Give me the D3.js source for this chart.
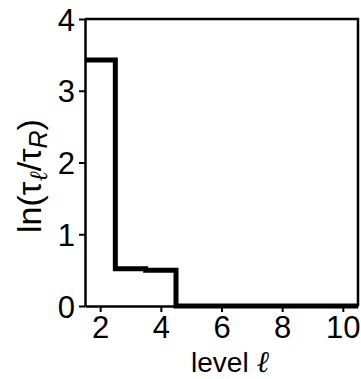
<!DOCTYPE html>
<html>
<head>
<meta charset="utf-8">
<script src="https://cdn.jsdelivr.net/npm/d3@7"></script>
<style>
  body { margin: 0; background: #fff; }
  svg { display: block; font-family: "Liberation Sans", Arial, sans-serif; }
</style>
</head>
<body>
<div class="chart"></div>
<script>
// data
var levels = [2, 3, 4, 5, 6, 7, 8, 9, 10]
var lnRatio = [3.43, 0.52, 0.50, 0, 0, 0, 0, 0, 0]
var xTicks = [2, 4, 6, 8, 10]
var yTicks = [0, 1, 2, 3, 4]

let svg = d3.select('div.chart').append('svg')
  .attr('width', 361).attr('height', 379)

let x = d3.scaleLinear().domain([1.5, 10.5]).range([85, 358])
let y = d3.scaleLinear().domain([0, 4]).range([306, 19])

// frame top + right
svg.append('path')
  .attr('d', 'M' + x.range()[0] + ',' + y(4) + 'H' + x.range()[1] + 'V' + y(0))
  .attr('fill', 'none').attr('stroke', '#000').attr('stroke-width', 2.5)

// x axis
let xa = svg.append('g')
  .attr('transform', 'translate(0,' + y(0) + ')')
  .call(d3.axisBottom(x).tickValues(xTicks).tickFormat(d3.format('d')).tickSize(6).tickSizeOuter(0).tickPadding(4))
// y axis
let ya = svg.append('g')
  .attr('transform', 'translate(' + x.range()[0] + ',0)')
  .call(d3.axisLeft(y).tickValues(yTicks).tickFormat(d3.format('d')).tickSize(6).tickSizeOuter(0).tickPadding(4))

svg.selectAll('.domain').attr('stroke-width', 2.5)
svg.selectAll('.tick line').attr('stroke-width', 2)
svg.selectAll('.tick text').style('font-size', '31px').attr('fill', '#000')
ya.selectAll('.tick text').attr('dy', '0.36em')

// step line
var pts = []
levels.forEach((l, i) => {
  pts.push([l - 0.5, lnRatio[i]])
  pts.push([l + 0.5, lnRatio[i]])
})
svg.append('path')
  .datum(pts)
  .attr('fill', 'none')
  .attr('stroke', '#000')
  .attr('stroke-width', 5)
  .attr('stroke-linejoin', 'miter')
  .attr('d', d3.line().x(d => x(d[0])).y(d => y(d[1])))

// labels
let xl = svg.append('text')
  .attr('x', 230).attr('y', 372)
  .attr('text-anchor', 'middle')
  .style('font-size', '28px')
xl.append('tspan').text('level ')
xl.append('tspan').style('font-family', '"DejaVu Serif", serif').style('font-style', 'italic').style('font-size', '30px').text('ℓ')

let yl = svg.append('text')
  .attr('transform', 'translate(41,176) rotate(-90)')
  .attr('text-anchor', 'middle')
  .style('font-size', '34px')
yl.append('tspan').text('ln(τ')
yl.append('tspan').attr('baseline-shift', '-25%').style('font-size', '25px')
  .style('font-family', '"DejaVu Serif", serif').style('font-style', 'italic').text('ℓ')
yl.append('tspan').text('/τ')
yl.append('tspan').attr('baseline-shift', '-25%').style('font-size', '25px').style('font-style', 'italic').text('R')
yl.append('tspan').text(')')
</script>
</body>
</html>
